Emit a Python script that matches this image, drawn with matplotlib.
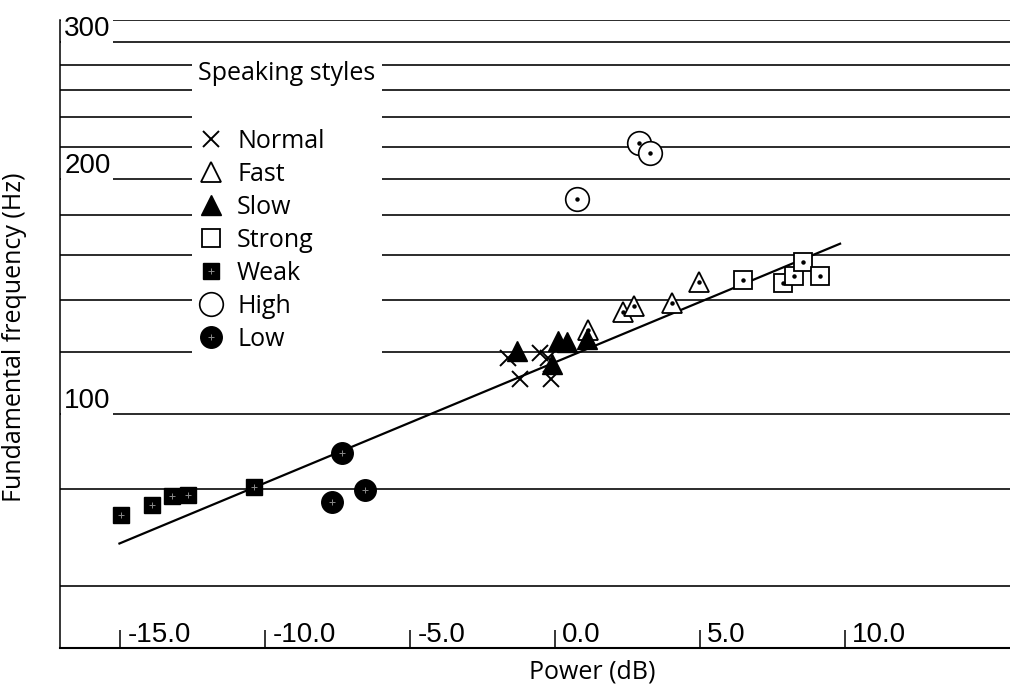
import matplotlib
matplotlib.use('Agg')
import matplotlib.pyplot as plt
from matplotlib.transforms import ScaledTranslation
from matplotlib.legend_handler import HandlerTuple
from matplotlib.ticker import NullLocator

# values: power (dB) vs. fundamental frequency (Hz)
normal_db = [-1.63, -1.21, -0.52, -0.14, -0.25]
normal_hz = [117.9, 110.8, 119.6, 110.7, 117.8]
fast_db = [1.14, 2.35, 2.70, 4.01, 4.96]
fast_hz = [128.0, 134.9, 137.6, 138.7, 147.4]
slow_db = [-1.33, 0.11, 0.40, -0.12, 1.09]
slow_hz = [120.4, 123.8, 123.7, 115.6, 124.8]
strong_db = [6.48, 7.84, 8.23, 8.55, 9.13]
strong_hz = [148.5, 147.1, 150.3, 156.7, 150.1]
weak_db = [-14.98, -13.91, -13.22, -12.65, -10.39]
weak_hz = [74.1, 76.2, 78.4, 78.6, 80.5]
high_db = [2.90, 3.27, 0.75]
high_hz = [222.6, 216.0, 188.5]
low_db = [-7.36, -7.71, -6.56]
low_hz = [88.9, 77.1, 79.7]

# regression line end points
fit_db = [-15.03, 9.82]
fit_hz = [68.1, 165.2]

grid_hz = [60, 80, 100, 120, 140, 160, 180, 200, 220, 240, 260, 280, 300, 320]
ytick_hz = [100, 200, 300]
xtick_db = [-15, -10, -5, 0, 5, 10]
xtick_labels = ['-15.0', '-10.0', '-5.0', '0.0', '5.0', '10.0']

sans = {'family': 'Open Sans', 'size': 18}

fig = plt.figure(figsize=(10.1, 6.91), dpi=100)
ax = fig.add_axes([0.0594, 0.0622, 0.9406, 0.9088])
ax.set_yscale('log')
ax.set_xlim(-17.08, 15.68)
ax.set_ylim(50, 320)

for hz in grid_hz:
    ax.axhline(hz, color='#1a1a1a', lw=1.3, zorder=1)

ax.plot(fit_db, fit_hz, color='black', lw=1.6, zorder=2)

ink = 'black'
h_normal, = ax.plot(normal_db, normal_hz, ls='none', marker='x', ms=12, mew=1.4,
                    color=ink, label='Normal', zorder=3)
h_fast, = ax.plot(fast_db, fast_hz, ls='none', marker='^', ms=15, mew=1.3,
                  mfc='white', mec=ink, label='Fast', zorder=3)
h_slow, = ax.plot(slow_db, slow_hz, ls='none', marker='^', ms=14, color=ink,
                  label='Slow', zorder=3)
h_strong, = ax.plot(strong_db, strong_hz, ls='none', marker='s', ms=13, mew=1.3,
                    mfc='white', mec=ink, label='Strong', zorder=3)
h_weak, = ax.plot(weak_db, weak_hz, ls='none', marker='s', ms=11, color=ink,
                  label='Weak', zorder=3)
h_high, = ax.plot(high_db, high_hz, ls='none', marker='o', ms=17, mew=1.2,
                  mfc='white', mec=ink, label='High', zorder=3)
h_low, = ax.plot(low_db, low_hz, ls='none', marker='o', ms=15.5, color=ink,
                 label='Low', zorder=3)

# centre dots of the open symbols and the speckle of the filled ones
for xs, ys in [(fast_db, fast_hz), (strong_db, strong_hz), (high_db, high_hz)]:
    ax.plot(xs, ys, ls='none', marker='o', ms=2.2, color=ink, zorder=4)
t_weak, = ax.plot(weak_db, weak_hz, ls='none', marker='+', ms=5, mew=0.7,
                  color='#8a8a8a', zorder=4)
t_low, = ax.plot(low_db, low_hz, ls='none', marker='+', ms=5, mew=0.7,
                 color='#8a8a8a', zorder=4)

# y axis: labels sit inside the plot, just above their line
ax.set_yticks(ytick_hz, [str(v) for v in ytick_hz])
ax.yaxis.set_minor_locator(NullLocator())
ax.tick_params(axis='y', which='both', length=0, pad=-3, labelsize=20,
               labelfontfamily='Liberation Sans')
for lab in ax.get_yticklabels():
    lab.set_ha('left')
    lab.set_va('bottom')
    lab.set_bbox(dict(facecolor='white', edgecolor='none', pad=2))

# x axis: short inward ticks with the value written just right of them
ax.set_xticks(xtick_db, xtick_labels)
ax.tick_params(axis='x', direction='in', length=13, width=1.1, pad=-4,
               labelsize=20, labelfontfamily='Liberation Sans')
shift = ScaledTranslation(7 / 100, 0, fig.dpi_scale_trans)
for lab in ax.get_xticklabels():
    lab.set_ha('left')
    lab.set_va('baseline')
    lab.set_transform(lab.get_transform() + shift)

for side in ['top', 'right']:
    ax.spines[side].set_visible(False)
ax.spines['left'].set_linewidth(1.1)
ax.spines['bottom'].set_linewidth(1.5)

ax.set_xlabel('Power (dB)', fontdict=sans)
ax.xaxis.set_label_coords(0.56, -0.0175)
ax.set_ylabel('Fundamental frequency (Hz)', fontdict=sans)
ax.yaxis.set_label_coords(-0.035, 0.495)

leg = ax.legend([h_normal, h_fast, h_slow, h_strong, (h_weak, t_weak), h_high, (h_low, t_low)],
                ['Normal', 'Fast', 'Slow', 'Strong', 'Weak', 'High', 'Low'],
                handler_map={tuple: HandlerTuple(ndivide=1)},
                title='Speaking styles\n', loc='upper left',
                bbox_to_anchor=(192 / 1010, 1 - 55 / 691), bbox_transform=fig.transFigure,
                borderaxespad=0, frameon=True, facecolor='white', edgecolor='none',
                framealpha=1, fancybox=False, handlelength=1.0, handletextpad=0.55,
                labelspacing=0.32, borderpad=0.25, alignment='left',
                prop=sans, title_fontproperties=sans)
leg.get_title().set_linespacing(1.5)

fig.savefig('out.png', dpi=100)
